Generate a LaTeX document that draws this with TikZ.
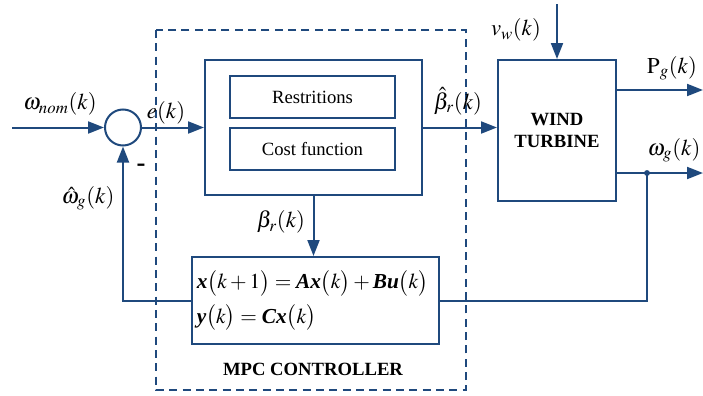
\documentclass[tikz,border=0pt]{standalone}
\usepackage{mathptmx}
\usepackage{fontspec}
\setmainfont{Liberation Serif}
\usetikzlibrary{arrows.meta}
\definecolor{lineblue}{RGB}{31,73,125}
\newcommand{\bv}[1]{\textbf{\textit{#1}}}

\begin{document}
\begin{tikzpicture}[x=0.75pt,y=-0.75pt,
    txt/.style={font=\fontsize{14}{17}\selectfont, text=black},
    math txt/.style={font=\fontsize{17}{20}\selectfont, text=black, inner sep=1pt},
    bold txt/.style={font=\fontsize{14}{17}\selectfont\bfseries, text=black},
    block/.style={draw=lineblue, line width=1.5pt, rectangle, inner sep=0pt, txt},
    wire/.style={draw=lineblue, line width=1.5pt},
    flow/.style={wire, -{Triangle[length=12pt,width=9pt]}}]

  \useasboundingbox (0,0) rectangle (703,396);

  % Controller frame
  \draw[lineblue, line width=1pt, dash pattern=on 6pt off 4pt] (156,30) rectangle (466,390);

  % Define blocks
  \node[circle, draw=lineblue, line width=1.5pt, minimum size=27pt, inner sep=0pt] (sum) at (123,127.5) {};
  \node[block, minimum width=162.75pt, minimum height=101.25pt] (mpc) at (313.5,127.5) {};
  \node[block, minimum width=123.75pt, minimum height=31.5pt] (restr) at (312.5,97) {Restritions};
  \node[block, minimum width=123.75pt, minimum height=31.5pt] (cost) at (312.5,149) {Cost function};
  \node[block, font=\fontsize{16}{26}\selectfont, align=left, text width=178pt, inner xsep=3.5pt,
        minimum height=65.25pt] (model) at (315.5,300.5)
    {$\bv{x}\bigl(k+1\bigr)=\bv{A}\bv{x}\bigl(k\bigr)+\bv{B}\bv{u}\bigl(k\bigr)$\\
     $\bv{y}\bigl(k\bigr)=\bv{C}\bv{x}\bigl(k\bigr)$};
  \node[block, bold txt, align=center, minimum width=88.5pt, minimum height=105.75pt] (wt) at (557,130.5) {WIND\\TURBINE};

  % Free ends
  \coordinate (in) at (12,127.5);
  \coordinate (vw) at (557,4);
  \coordinate (pg) at (703,90);
  \coordinate (og) at (703,173);
  \coordinate (jn) at (647,173);

  % Connectors
  \draw[flow] (in) -- (sum);
  \draw[flow] (sum) -- (mpc);
  \draw[flow] (mpc.east) -- (mpc.east -| wt.west);
  \draw[flow] (mpc.south) -- (mpc.south |- model.north);
  \draw[flow] (vw) -- (wt.north);
  \draw[flow] (wt.east |- pg) -- (pg);
  \draw[flow] (wt.east |- og) -- (og);
  \draw[flow] (model.west) -| (sum);
  \draw[wire] (model.east) -| (jn);
  \fill[lineblue] (jn) circle (2.2pt);

  % Labels
  \node[math txt] (lnom) at (60,104) {$\omega_{nom}(k)$};
  \node[math txt] (lerr) at (166,113) {$e(k)$};
  \node[math txt] (lhat) at (88,198) {$\hat{\omega}_g(k)$};
  \node[bold txt, font=\fontsize{20}{20}\selectfont\bfseries] (lminus) at (141,168) {-};
  \node[math txt] (lbr) at (281,222) {$\beta_r(k)$};
  \node[math txt] (lbhat) at (458,101) {$\hat{\beta}_r(k)$};
  \node[math txt] (lvw) at (516,30) {$v_w(k)$};
  \node[math txt] (lpg) at (672,68) {$\mathrm{P}_g(k)$};
  \node[math txt] (log) at (674,150) {$\omega_g(k)$};
  \node[bold txt] (lmpc) at (313,369) {MPC CONTROLLER};
\end{tikzpicture}
\end{document}
